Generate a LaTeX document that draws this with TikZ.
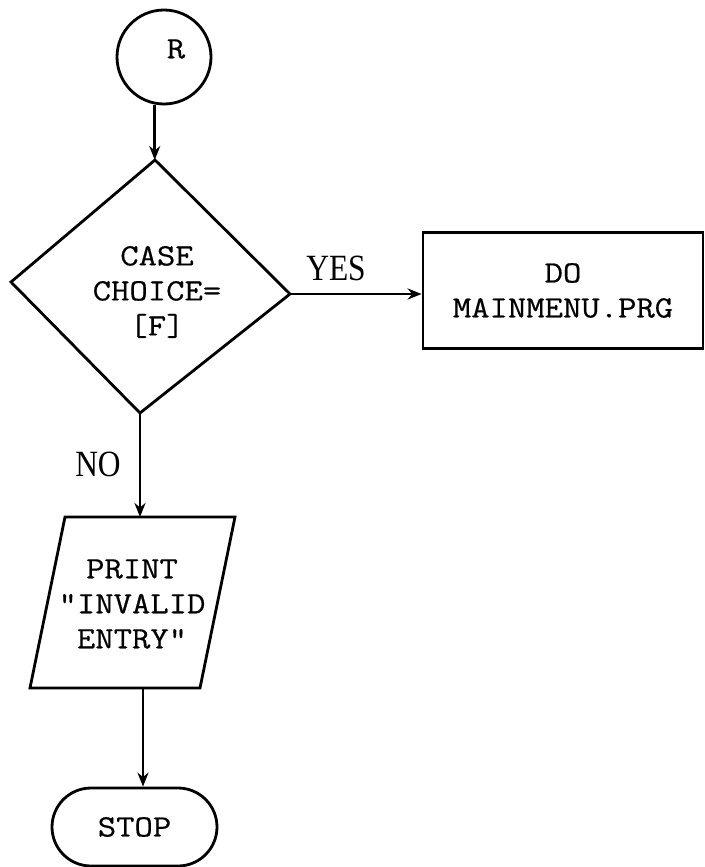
\documentclass[tikz,border=0pt]{standalone}
\usepackage{fontspec}
\setmainfont{Liberation Serif}
\setmonofont[FakeStretch=1.15,FakeBold=0.5]{Latin Modern Mono}
\newfontfamily\lblfont[FakeStretch=0.85]{Liberation Serif}
\usetikzlibrary{arrows.meta,shapes.geometric,shapes.misc}
\begin{document}
\begin{tikzpicture}[x=1pt,y=-1pt, line width=2.8pt, line join=miter,
  flow/.style={-{Stealth[length=14pt,width=11pt]}},
  mono/.style={font=\ttfamily\fontsize{31}{35}\selectfont, align=center, inner sep=0pt},
  lbl/.style={font=\lblfont\fontsize{37}{40}\selectfont, inner sep=0pt}]
\useasboundingbox[fill=white] (0,0) rectangle (704,867);
% start connector
\node[draw, circle, minimum size=94pt, inner sep=0pt] (R) at (164,57) {};
\node[mono] (Rt) at (176,49) {R};
% decision
\coordinate (dT) at (155,160);
\coordinate (dR) at (290,294);
\coordinate (dB) at (140,413);
\coordinate (dL) at (11,282);
\draw (dT) -- (dR) -- (dB) -- (dL) -- cycle;
\node[mono] (dtext) at (157,292) {CASE\\CHOICE=\\{[}F{]}};
% process box
\node[draw, minimum width=280pt, minimum height=116pt, mono] (box) at (563,290.5) {DO\\MAINMENU.PRG};
% parallelogram
\coordinate (pTL) at (65,517);
\coordinate (pTR) at (235,517);
\coordinate (pBR) at (200,688);
\coordinate (pBL) at (30,688);
\draw (pTL) -- (pTR) -- (pBR) -- (pBL) -- cycle;
\node[mono] (ptext) at (132,604) {PRINT\\“INVALID\\ENTRY”};
\coordinate (pout) at (143,688);
% terminal
\node[draw, rounded rectangle, minimum width=165pt, minimum height=78pt, mono] (stop) at (134.5,827) {STOP};
% connectors
\draw[flow] (R.-101) -- (R.-101 |- dT);
\draw[flow] (dR) -- (dR -| box.west);
\draw[flow] (dB) -- (dB |- pTL);
\draw[flow] (pout) -- (pout |- stop.north);
% labels
\node[lbl] (yes) at (336,268) {YES};
\node[lbl] (no) at (98,464) {NO};
\end{tikzpicture}
\end{document}
